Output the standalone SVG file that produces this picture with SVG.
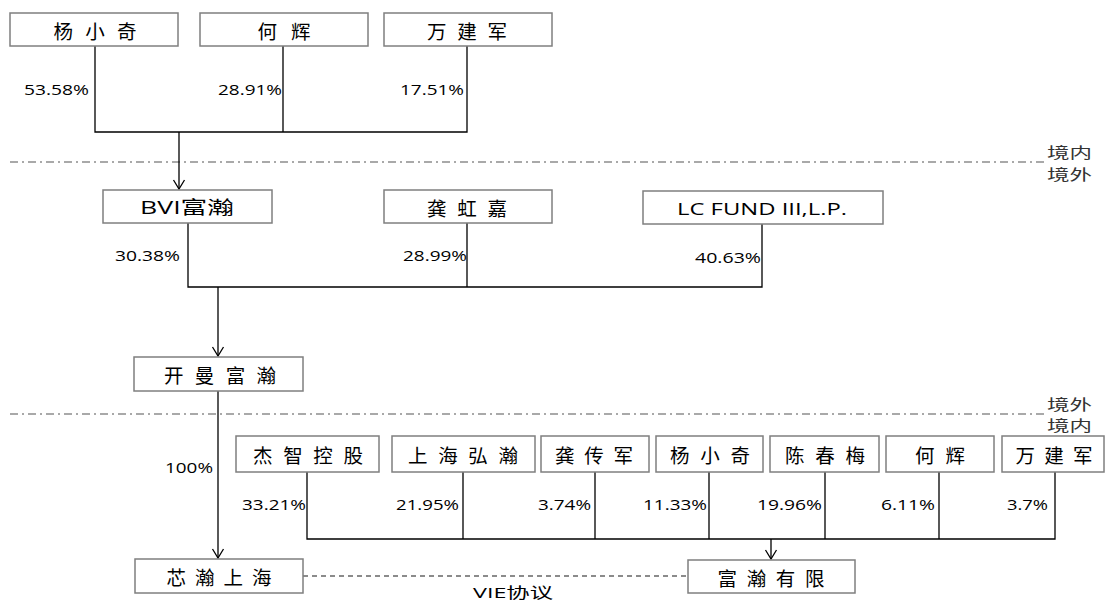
<svg xmlns="http://www.w3.org/2000/svg" width="1106" height="601" viewBox="0 0 1106 601">
<defs>
<marker id="arr" viewBox="-11 -7 12 14" refX="0" refY="0" markerWidth="12" markerHeight="14" markerUnits="userSpaceOnUse" orient="auto">
<path d="M-9,-5.5 L0,0 L-9,5.5" fill="none" stroke="#000" stroke-width="1.3"/>
</marker>
</defs>
<style>
.box{fill:#fff;stroke:#7f7f7f;stroke-width:1.5}
.cn{font-family:"Noto Sans CJK SC","Noto Sans",sans-serif;font-size:19.5px;fill:#000;dominant-baseline:central;text-anchor:middle}
.pct{font-family:"Open Sans","Liberation Sans",sans-serif;font-size:14px;fill:#000}
.ln{fill:none;stroke:#000;stroke-width:1.3}
.dd{fill:none;stroke:#555;stroke-width:1.2;stroke-dasharray:8 4 2 4}
.vie{fill:none;stroke:#666;stroke-width:1.3;stroke-dasharray:5 4}
.lab{font-family:"Noto Sans CJK SC",sans-serif;font-size:15px;fill:#333}
</style>
<rect width="1106" height="601" fill="#fff"/>

<g id="boundaries">
<line class="dd" x1="10" y1="162" x2="1045" y2="162"/>
<text class="lab" x="1047" y="158" textLength="45" lengthAdjust="spacingAndGlyphs">境内</text>
<text class="lab" x="1047" y="180" textLength="45" lengthAdjust="spacingAndGlyphs">境外</text>
<line class="dd" x1="10" y1="414" x2="1045" y2="414"/>
<text class="lab" x="1047" y="410" textLength="45" lengthAdjust="spacingAndGlyphs">境外</text>
<text class="lab" x="1047" y="431" textLength="45" lengthAdjust="spacingAndGlyphs">境内</text>
</g>

<g id="connectors">
<path class="ln" d="M95,46 V132 H467 V46 M283,46 V132"/>
<path class="ln" d="M179,132 V189" marker-end="url(#arr)"/>
<path class="ln" d="M188,223 V287 H762 V224 M467,223 V287"/>
<path class="ln" d="M218,287 V356" marker-end="url(#arr)"/>
<path class="ln" d="M218,391 V558" marker-end="url(#arr)"/>
<path class="ln" d="M307,472 V539 H1055 V472 M463,472 V539 M595,472 V539 M709,472 V539 M825,472 V539 M939,472 V539"/>
<path class="ln" d="M771,539 V559" marker-end="url(#arr)"/>
<line class="vie" x1="303" y1="576" x2="688" y2="576"/>
<text class="pct" x="473" y="598" textLength="80" lengthAdjust="spacingAndGlyphs" style="font-family:'Open Sans','Noto Sans CJK SC',sans-serif;font-size:15px">VIE协议</text>
</g>

<g id="pcts">
<text class="pct" x="24" y="95" textLength="65" lengthAdjust="spacingAndGlyphs">53.58%</text>
<text class="pct" x="218" y="95" textLength="64" lengthAdjust="spacingAndGlyphs">28.91%</text>
<text class="pct" x="400" y="95" textLength="64" lengthAdjust="spacingAndGlyphs">17.51%</text>
<text class="pct" x="115" y="261" textLength="65" lengthAdjust="spacingAndGlyphs">30.38%</text>
<text class="pct" x="403" y="261" textLength="64" lengthAdjust="spacingAndGlyphs">28.99%</text>
<text class="pct" x="695" y="263" textLength="66" lengthAdjust="spacingAndGlyphs">40.63%</text>
<text class="pct" x="165" y="473" textLength="48" lengthAdjust="spacingAndGlyphs">100%</text>
<text class="pct" x="242" y="510" textLength="64" lengthAdjust="spacingAndGlyphs">33.21%</text>
<text class="pct" x="396" y="510" textLength="63" lengthAdjust="spacingAndGlyphs">21.95%</text>
<text class="pct" x="538" y="510" textLength="53" lengthAdjust="spacingAndGlyphs">3.74%</text>
<text class="pct" x="643" y="510" textLength="64" lengthAdjust="spacingAndGlyphs">11.33%</text>
<text class="pct" x="757" y="510" textLength="65" lengthAdjust="spacingAndGlyphs">19.96%</text>
<text class="pct" x="881" y="510" textLength="54" lengthAdjust="spacingAndGlyphs">6.11%</text>
<text class="pct" x="1007" y="510" textLength="41" lengthAdjust="spacingAndGlyphs">3.7%</text>
</g>

<g id="n_yang1"><rect class="box" x="10" y="13" width="168" height="33"/><text class="cn" x="95" y="30" textLength="83" lengthAdjust="spacing">杨小奇</text></g>
<g id="n_he1"><rect class="box" x="200" y="13" width="168" height="33"/><text class="cn" x="284" y="30" textLength="53" lengthAdjust="spacing">何辉</text></g>
<g id="n_wan1"><rect class="box" x="384" y="13" width="168" height="33"/><text class="cn" x="467" y="30" textLength="80" lengthAdjust="spacing">万建军</text></g>

<g id="n_bvi"><rect class="box" x="103" y="190" width="169" height="33"/><text class="cn" x="187" y="207" textLength="94" lengthAdjust="spacingAndGlyphs" style="font-family:'Open Sans','Noto Sans CJK SC',sans-serif;font-size:18px">BVI富瀚</text></g>
<g id="n_gonghj"><rect class="box" x="384" y="190" width="168" height="33"/><text class="cn" x="467" y="207" textLength="80" lengthAdjust="spacing">龚虹嘉</text></g>
<g id="n_lc"><rect class="box" x="643" y="191" width="240" height="33"/><text class="cn" x="762" y="208" textLength="170" lengthAdjust="spacingAndGlyphs" style="font-family:'Open Sans',sans-serif;font-size:17px">LC FUND III,L.P.</text></g>

<g id="n_kaiman"><rect class="box" x="134" y="357" width="169" height="34"/><text class="cn" x="220" y="374" textLength="112" lengthAdjust="spacing">开曼富瀚</text></g>

<g id="n_jiezhi"><rect class="box" x="236" y="436" width="143" height="36"/><text class="cn" x="308" y="454" textLength="110" lengthAdjust="spacing">杰智控股</text></g>
<g id="n_shhh"><rect class="box" x="392" y="436" width="143" height="36"/><text class="cn" x="463" y="454" textLength="110" lengthAdjust="spacing">上海弘瀚</text></g>
<g id="n_gongcj"><rect class="box" x="541" y="436" width="108" height="36"/><text class="cn" x="594" y="454" textLength="78" lengthAdjust="spacing">龚传军</text></g>
<g id="n_yang2"><rect class="box" x="656" y="436" width="107" height="36"/><text class="cn" x="710" y="454" textLength="80" lengthAdjust="spacing">杨小奇</text></g>
<g id="n_chen"><rect class="box" x="770" y="436" width="109" height="36"/><text class="cn" x="825" y="454" textLength="80" lengthAdjust="spacing">陈春梅</text></g>
<g id="n_he2"><rect class="box" x="886" y="436" width="108" height="36"/><text class="cn" x="940" y="454" textLength="50" lengthAdjust="spacing">何辉</text></g>
<g id="n_wan2"><rect class="box" x="1002" y="436" width="102" height="36"/><text class="cn" x="1054" y="454" textLength="77" lengthAdjust="spacing">万建军</text></g>

<g id="n_xinhan"><rect class="box" x="135" y="559" width="168" height="34"/><text class="cn" x="219" y="576" textLength="105" lengthAdjust="spacing">芯瀚上海</text></g>
<g id="n_fuhan"><rect class="box" x="688" y="560" width="167" height="33"/><text class="cn" x="771" y="577" textLength="107" lengthAdjust="spacing">富瀚有限</text></g>
</svg>
